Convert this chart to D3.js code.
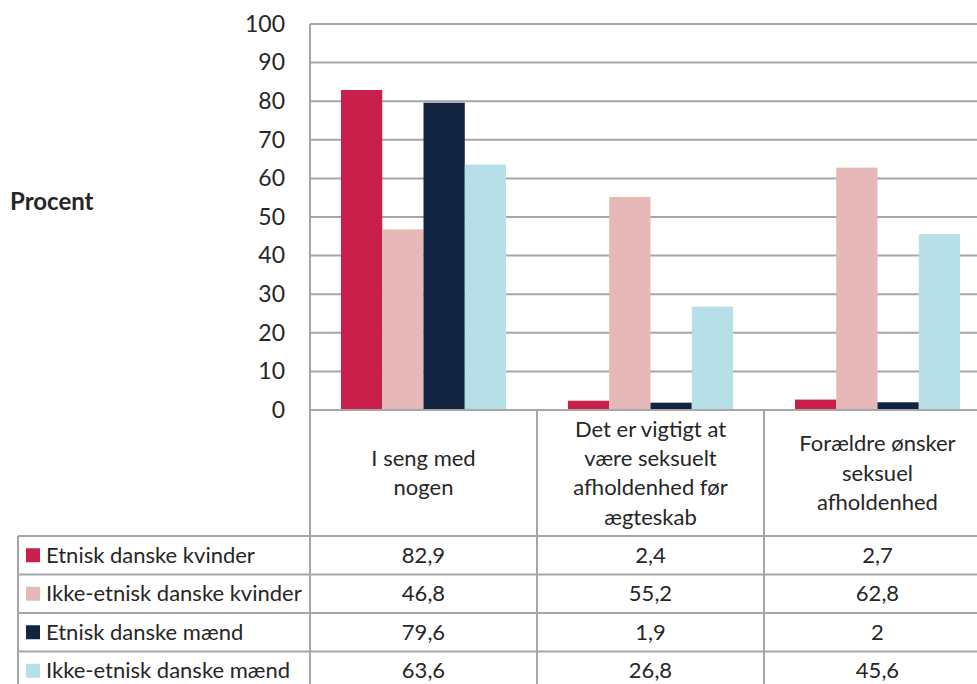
<!DOCTYPE html>
<html>
<head>
<meta charset="utf-8">
<script src="https://cdn.jsdelivr.net/npm/d3@7"></script>
<style>
  body { margin: 0; background: #fff; }
  text { font-family: Lato, "Open Sans", sans-serif; fill: #262626; }
</style>
</head>
<body>
<script>
// data
var categories = ["I seng med\nnogen",
                  "Det er vigtigt at\nvære seksuelt\nafholdenhed før\nægteskab",
                  "Forældre ønsker\nseksuel\nafholdenhed"];
var seriesNames = ["Etnisk danske kvinder", "Ikke-etnisk danske kvinder",
                   "Etnisk danske mænd", "Ikke-etnisk danske mænd"];
var seriesColors = ["#c8204b", "#e6b8b7", "#112540", "#b7dfe8"];
var etniskKvinder = [82.9, 2.4, 2.7];
var ikkeEtniskKvinder = [46.8, 55.2, 62.8];
var etniskMaend = [79.6, 1.9, 2];
var ikkeEtniskMaend = [63.6, 26.8, 45.6];
var yTicks = [0, 10, 20, 30, 40, 50, 60, 70, 80, 90, 100];

var series = [etniskKvinder, ikkeEtniskKvinder, etniskMaend, ikkeEtniskMaend];

var width = 977, height = 684;
var plotLeft = 310, plotRight = 991, plotTop = 24, zero = 410;
var tableLeft = 18, headerBottom = 536, rowH = 38.5;
var gridColor = "#a6a6a6";

var svg = d3.select("body").append("svg")
  .attr("width", width).attr("height", height);

var x0 = d3.scaleBand().domain(d3.range(categories.length)).range([plotLeft, plotRight]);
var x1 = d3.scaleBand().domain(d3.range(series.length))
  .range([0, x0.bandwidth()]).paddingOuter(0.75).paddingInner(0);
var y = d3.scaleLinear().domain([0, 100]).range([zero, plotTop]);

// gridlines
svg.append("g").selectAll("line")
  .data(yTicks.slice(1))
  .enter().append("line")
  .attr("x1", plotLeft).attr("x2", plotRight)
  .attr("y1", function(d) { return y(d); })
  .attr("y2", function(d) { return y(d); })
  .attr("stroke", gridColor).attr("stroke-width", 2);

// y axis labels
var yAxis = d3.axisLeft(y).tickValues(yTicks).tickSize(0).tickPadding(25);
var ya = svg.append("g").attr("transform", "translate(" + plotLeft + ",0)").call(yAxis);
ya.select(".domain").remove();
ya.selectAll("text").style("font-size", "23px").style("font-family", "Lato, sans-serif").attr("fill", "#262626");

svg.append("text")
  .attr("x", 10).attr("y", 202)
  .attr("dy", "0.35em")
  .style("font-size", "24px").style("font-weight", "bold")
  .text("Procent");

// bars
series.forEach(function(vals, si) {
  svg.append("g").selectAll("rect")
    .data(vals)
    .enter().append("rect")
    .attr("x", function(d, i) { return x0(i) + x1(si); })
    .attr("width", x1.bandwidth())
    .attr("y", function(d) { return y(d); })
    .attr("height", function(d) { return zero - y(d); })
    .attr("fill", seriesColors[si]);
});

// table lines
var tableBottom = headerBottom + rowH * series.length;
var lines = svg.append("g").attr("stroke", gridColor).attr("stroke-width", 2);
lines.append("line").attr("x1", plotLeft).attr("x2", plotRight).attr("y1", zero).attr("y2", zero);
lines.append("line").attr("x1", plotLeft).attr("x2", plotLeft).attr("y1", plotTop).attr("y2", tableBottom);
d3.range(1, categories.length + 1).forEach(function(i) {
  var xx = i < categories.length ? x0(i) : plotRight;
  lines.append("line").attr("x1", xx).attr("x2", xx).attr("y1", zero).attr("y2", tableBottom);
});
d3.range(series.length + 1).forEach(function(r) {
  var yy = headerBottom + r * rowH;
  lines.append("line").attr("x1", tableLeft).attr("x2", plotRight).attr("y1", yy).attr("y2", yy);
});
lines.append("line").attr("x1", tableLeft).attr("x2", tableLeft).attr("y1", headerBottom).attr("y2", tableBottom);

// header labels
categories.forEach(function(c, i) {
  var parts = c.split("\n");
  var lh = 29.3;
  var cy = (zero + headerBottom) / 2 - (parts.length - 1) * lh / 2;
  var t = svg.append("text")
    .attr("text-anchor", "middle")
    .style("font-size", "22px");
  parts.forEach(function(p, k) {
    t.append("tspan")
      .attr("x", x0(i) + x0.bandwidth() / 2)
      .attr("y", cy + k * lh)
      .attr("dy", "0.35em")
      .text(p);
  });
});

// rows
var fmt = function(v) { return String(v).replace(".", ","); };
series.forEach(function(vals, si) {
  var cy = headerBottom + si * rowH + rowH / 2;
  svg.append("rect")
    .attr("x", 26).attr("y", cy - 7)
    .attr("width", 14).attr("height", 14)
    .attr("fill", seriesColors[si]);
  svg.append("text")
    .attr("x", 46).attr("y", cy).attr("dy", "0.35em")
    .style("font-size", "22px")
    .text(seriesNames[si]);
  vals.forEach(function(v, i) {
    svg.append("text")
      .attr("x", x0(i) + x0.bandwidth() / 2)
      .attr("y", cy).attr("dy", "0.35em")
      .attr("text-anchor", "middle")
      .style("font-size", "22px")
      .text(fmt(v));
  });
});
</script>
</body>
</html>
